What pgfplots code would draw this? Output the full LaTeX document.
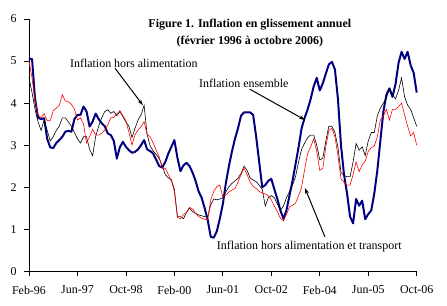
\documentclass[border=0pt]{standalone}
\usepackage{pgfplots}
\pgfplotsset{compat=1.18}
\usepackage{pgfplotstable}
\usepackage{fontspec}
\setmainfont{Liberation Serif}
\usetikzlibrary{arrows.meta}
\definecolor{navy}{HTML}{000080}
\definecolor{pured}{HTML}{FF0000}

% m = months since Feb-96; ens = ensemble, hal = hors alimentation, hat = hors alim. et transport
\pgfplotstableread{
m ens hal hat
0 5.05 4.60 5.00
1 5.05 4.25 4.60
2 4.10 3.85 4.05
3 3.65 3.55 3.72
4 3.62 3.35 3.65
5 3.64 3.60 3.75
6 3.15 3.35 3.58
7 2.95 3.10 3.58
8 2.93 3.20 3.82
9 3.05 3.35 3.88
10 3.12 3.45 3.95
11 3.20 3.65 4.20
12 3.32 3.65 4.05
13 3.34 3.55 4.03
14 3.32 3.45 3.97
15 3.62 3.30 3.86
16 3.72 3.15 3.60
17 3.72 3.05 3.65
18 3.92 3.20 3.50
19 3.80 3.20 3.05
20 3.44 2.90 3.20
21 3.56 2.75 3.38
22 3.75 3.20 3.24
23 3.62 3.45 3.24
24 3.52 3.65 3.28
25 3.45 3.80 3.36
26 3.28 3.84 3.48
27 3.24 3.76 3.65
28 3.10 3.80 3.66
29 2.68 3.70 3.75
30 2.95 3.80 3.82
31 3.08 3.68 3.70
32 2.96 3.55 3.58
33 2.88 3.45 3.30
34 2.82 3.18 3.00
35 2.84 3.40 3.25
36 2.90 3.60 3.36
37 3.00 3.72 3.44
38 3.12 3.95 3.56
39 2.90 3.25 3.25
40 2.86 2.98 3.20
41 2.80 2.86 3.05
42 2.65 2.78 2.88
43 2.50 2.68 2.72
44 2.47 2.50 2.45
45 2.60 2.30 2.45
46 2.80 2.22 2.30
47 2.96 2.18 2.15
48 3.12 1.95 1.90
49 2.70 1.30 1.28
50 2.38 1.30 1.25
51 2.52 1.25 1.35
52 2.58 1.40 1.40
53 2.50 1.50 1.52
54 2.35 1.42 1.48
55 2.15 1.38 1.38
56 1.90 1.34 1.30
57 1.75 1.32 1.26
58 1.50 1.30 1.24
59 1.22 1.30 1.22
60 0.82 1.58 1.70
61 0.80 1.72 1.90
62 0.95 1.70 2.01
63 1.25 1.72 2.05
64 1.60 1.75 1.76
65 2.10 1.89 1.81
66 2.50 2.01 1.89
67 2.85 2.09 1.93
68 3.15 2.15 1.97
69 3.40 2.21 2.12
70 3.70 2.33 2.30
71 3.78 2.50 2.45
72 3.78 2.40 2.30
73 3.78 2.22 2.12
74 3.72 2.17 2.02
75 3.20 2.13 1.97
76 2.60 2.05 1.90
77 2.00 1.95 1.86
78 2.05 1.55 1.84
79 2.15 1.75 1.80
80 2.20 1.80 1.70
81 1.95 1.75 1.55
82 1.72 1.60 1.42
83 1.45 1.45 1.26
84 1.25 1.55 1.20
85 1.45 1.75 1.35
86 1.80 1.90 1.53
87 2.15 2.05 1.57
88 2.55 2.25 1.62
89 2.95 2.60 1.80
90 3.40 2.90 2.00
91 3.65 3.05 2.42
92 3.85 3.18 2.80
93 4.10 3.24 2.96
94 4.40 3.24 3.15
95 4.60 3.00 2.85
96 4.30 2.65 2.40
97 4.47 2.69 2.45
98 4.70 3.10 2.96
99 4.92 3.45 3.35
100 4.98 3.45 3.40
101 4.80 3.30 3.20
102 4.10 2.95 2.75
103 3.00 2.35 2.20
104 2.30 2.28 2.12
105 1.85 2.25 2.05
106 1.30 2.25 2.05
107 1.14 2.60 2.30
108 1.72 3.04 2.60
109 1.56 2.88 2.37
110 1.68 2.96 2.53
111 1.24 2.75 2.62
112 1.36 3.10 2.85
113 1.45 3.30 2.94
114 1.85 3.30 2.98
115 2.40 3.70 3.20
116 3.10 3.88 3.60
117 3.80 4.00 3.70
118 4.20 4.12 3.85
119 4.35 4.35 3.60
120 4.15 4.20 3.85
121 4.45 4.10 3.85
122 4.95 4.30 3.92
123 5.22 4.60 4.00
124 5.05 4.15 3.72
125 5.22 3.95 3.45
126 4.90 3.85 3.22
127 4.72 3.65 3.30
128 4.25 3.45 3.00
}\inflation

\begin{document}
\begin{tikzpicture}
\begin{axis}[
    name=ax,
    scale only axis,
    width=387.7bp, height=252.3bp,
    xmin=0, xmax=128, ymin=0, ymax=6,
    axis lines=left,
    axis line style={-, line width=0.8pt},
    tick align=outside,
    major tick length=5bp,
    tick style={black, line width=0.8pt},
    xtick={0,16,32,48,64,80,96,112,128},
    xticklabels={Feb-96,Jun-97,Oct-98,Feb-00,Jun-01,Oct-02,Feb-04,Jun-05,Oct-06},
    ytick={0,1,2,3,4,5,6},
    tick label style={font=\fontsize{12}{13}\selectfont},
    xticklabel style={yshift=-6bp},
    yticklabel style={xshift=-4bp},
    /pgf/number format/assume math mode=true,
    clip=false,
]
\addplot[navy, line width=2pt, line join=round] table[x=m, y=ens] {\inflation};
\addplot[black, line width=0.6pt] table[x=m, y=hal] {\inflation};
\addplot[pured, line width=0.6pt] table[x=m, y=hat] {\inflation};

\node[font=\bfseries\fontsize{12}{17}\selectfont, align=center] at (axis cs:72.9,5.67)
    {Figure 1. Inflation en glissement annuel\\(février 1996 à octobre 2006)};
\node[font=\fontsize{12}{13}\selectfont, anchor=west, inner sep=0pt] at (axis cs:13.5,4.95) {Inflation hors alimentation};
\node[font=\fontsize{12}{13}\selectfont, anchor=west, inner sep=0pt] at (axis cs:56.1,4.48) {Inflation ensemble};
\node[font=\fontsize{12}{13}\selectfont, anchor=west, inner sep=0pt] at (axis cs:62,0.6) {Inflation hors alimentation et transport};
\draw[-{Stealth[length=6pt,width=4pt]}, line width=1pt] (axis cs:28.4,4.83) -- (axis cs:37.6,3.95);
\draw[-{Stealth[length=6pt,width=4pt]}, line width=1pt] (axis cs:72.9,4.33) -- (axis cs:91.1,3.6);
\draw[-{Stealth[length=6pt,width=4pt]}, line width=1pt] (axis cs:97.7,0.82) -- (axis cs:91.1,1.98);
\end{axis}
\pgfresetboundingbox
\path (ax.south west) ++(-29bp,-34.7bp) rectangle ++(447bp,306bp);
\end{tikzpicture}
\end{document}
